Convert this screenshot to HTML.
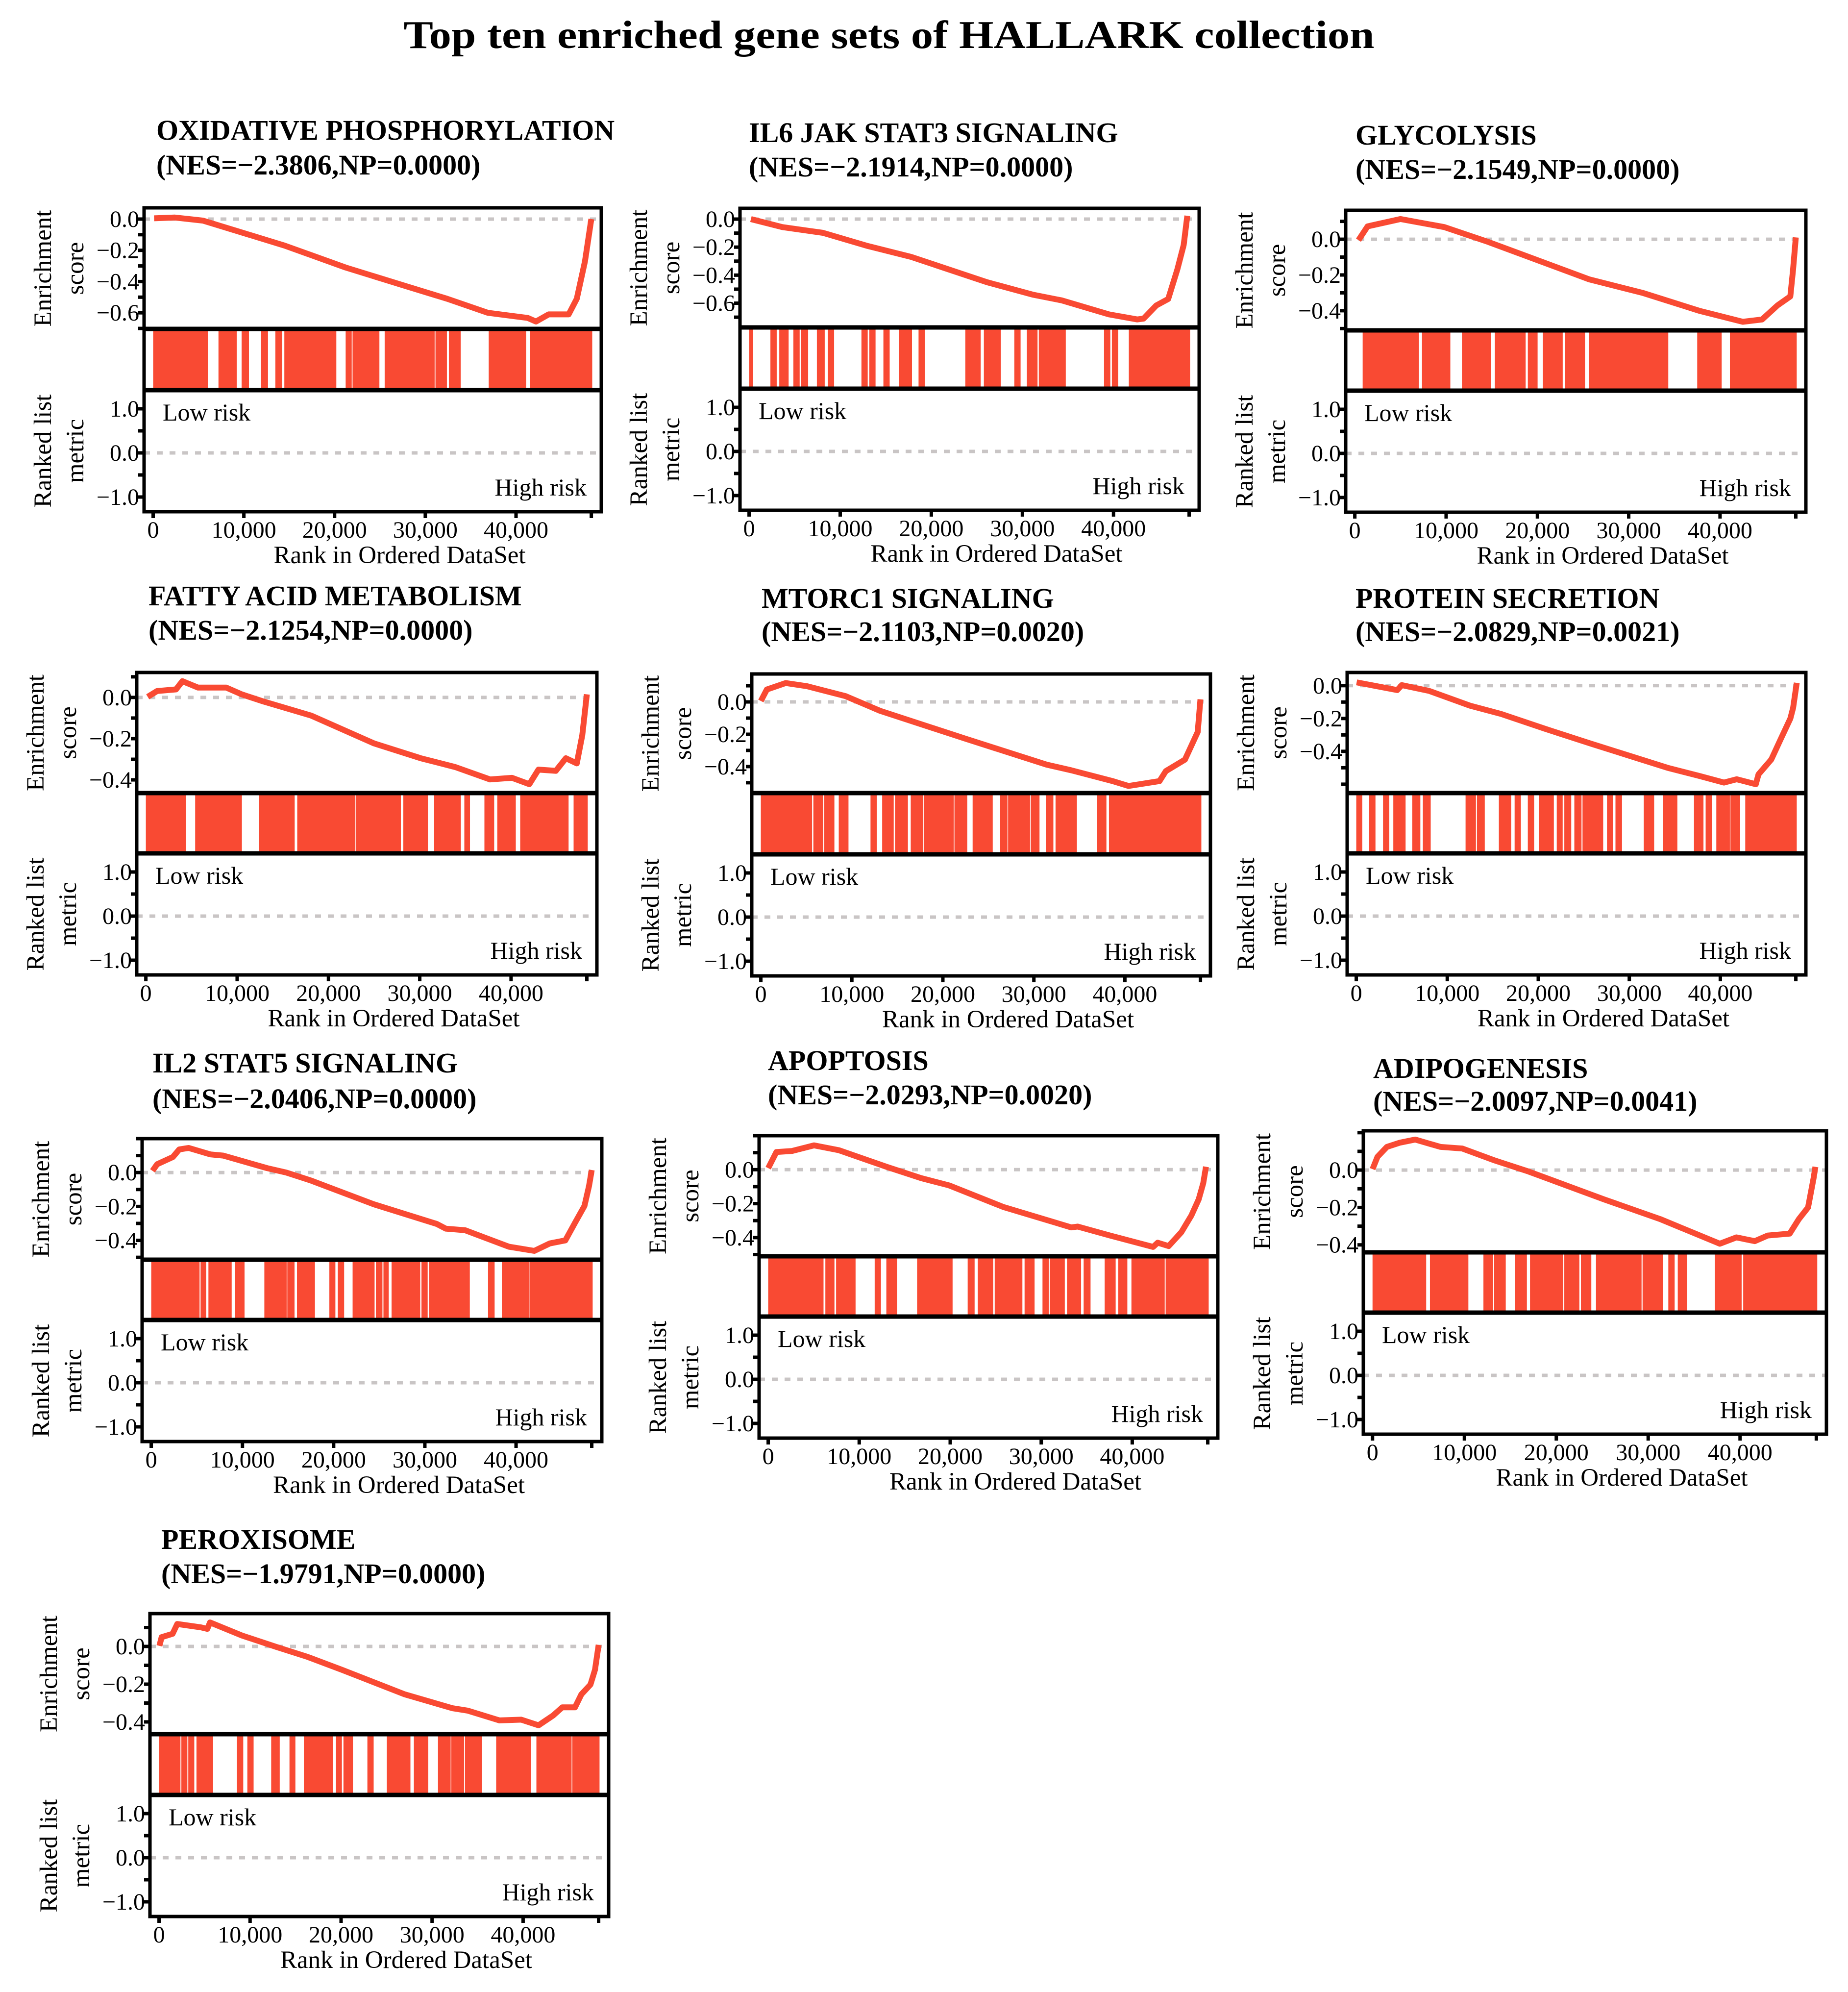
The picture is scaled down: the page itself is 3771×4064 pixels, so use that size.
<!DOCTYPE html>
<html><head><meta charset="utf-8"><style>
html,body{margin:0;padding:0;background:#fff;}
svg{display:block;}
text{font-family:"Liberation Serif","Times New Roman",serif;fill:#000;}
</style></head><body>
<svg id="chart" xmlns="http://www.w3.org/2000/svg" width="3771" height="4064" viewBox="0 0 3771 4064">
<rect x="0" y="0" width="3771" height="4064" fill="#fff"/>
<text x="1814" y="98" text-anchor="middle" font-size="80" font-weight="bold" textLength="1981" lengthAdjust="spacingAndGlyphs">Top ten enriched gene sets of HALLARK collection</text>
</svg>
<script>
// ---- data (ranks in thousands) ----
const setNames = ["OXIDATIVE PHOSPHORYLATION","IL6 JAK STAT3 SIGNALING","GLYCOLYSIS","FATTY ACID METABOLISM","MTORC1 SIGNALING","PROTEIN SECRETION","IL2 STAT5 SIGNALING","APOPTOSIS","ADIPOGENESIS","PEROXISOME"];
const nesValues = ["\u22122.3806","\u22122.1914","\u22122.1549","\u22122.1254","\u22122.1103","\u22122.0829","\u22122.0406","\u22122.0293","\u22122.0097","\u22121.9791"];
const npValues = ["0.0000","0.0000","0.0000","0.0000","0.0020","0.0021","0.0000","0.0020","0.0041","0.0000"];
const xTicks = [0,10,20,30,40];
const xTickLabels = ["0","10,000","20,000","30,000","40,000"];
const metricTicks = [1,0,-1];
const metricTickLabels = ["1.0","0.0","\u22121.0"];
const esRanks1=[0.1,2.4,5.5,10,14.5,21.2,27.9,32.4,36.9,41.3,42.2,43.6,45.8,46.7,47.6,48.3];
const esVals1=[0.005,0.01,-0.01,-0.09,-0.17,-0.31,-0.43,-0.51,-0.60,-0.633,-0.656,-0.61,-0.61,-0.51,-0.27,0.0];
const esRanks2=[0.2,3.65,8.1,12.9,17.8,26.1,31.2,34.3,39.5,42.6,43.3,44.7,46.0,47.0,47.7,48.1];
const esVals2=[0.0,-0.057,-0.098,-0.19,-0.27,-0.45,-0.54,-0.58,-0.68,-0.716,-0.71,-0.616,-0.57,-0.36,-0.185,0.024];
const esRanks3=[0.4,1.4,5.0,9.8,14.6,25.7,31.5,37.7,42.5,44.6,46.3,47.7,48.0,48.3];
const esVals3=[-0.005,0.072,0.113,0.068,-0.015,-0.225,-0.30,-0.40,-0.462,-0.449,-0.37,-0.32,-0.17,0.01];
const esRanks4=[0.2,1.24,3.3,4.0,5.7,8.8,10.5,12.9,18.1,25.0,30.1,33.9,37.7,40.1,42.0,43.0,44.9,46.0,47.2,47.8,48.3];
const esVals4=[0.003,0.031,0.039,0.079,0.048,0.048,0.015,-0.02,-0.088,-0.223,-0.295,-0.338,-0.398,-0.39,-0.421,-0.35,-0.356,-0.295,-0.32,-0.183,0.015];
const esRanks5=[0.0,0.66,2.73,5.1,9.3,13.1,22.4,31.4,34.1,38.6,40.4,43.8,44.5,46.6,48.0,48.3];
const esVals5=[0.006,0.077,0.117,0.097,0.036,-0.055,-0.226,-0.388,-0.423,-0.489,-0.52,-0.49,-0.428,-0.357,-0.186,0.016];
const esRanks6=[0.04,4.5,5.0,8.0,12.5,15.9,20.7,25.6,34.2,37.7,40.4,41.8,43.9,44.2,45.6,46.6,47.7,48.0,48.4];
const esVals6=[0.02,-0.027,0.003,-0.032,-0.122,-0.172,-0.262,-0.35,-0.50,-0.55,-0.59,-0.57,-0.60,-0.54,-0.45,-0.33,-0.20,-0.135,0.017];
const esRanks7=[0.14,0.65,2.38,3.07,4.1,6.5,7.9,12.7,14.8,17.5,24.4,31.3,32.3,34.4,39.2,42.0,43.7,45.4,46.5,47.5,48.0,48.3];
const esVals7=[0.01,0.049,0.092,0.136,0.145,0.107,0.1,0.026,0.0,-0.047,-0.187,-0.303,-0.331,-0.34,-0.437,-0.462,-0.418,-0.40,-0.293,-0.197,-0.08,0.015];
const esRanks8=[0.0,0.9,2.62,5.04,7.8,13.0,16.8,19.9,25.8,33.3,34.0,37.5,42.3,42.8,44.0,45.4,46.5,47.3,47.8,48.1];
const esVals8=[0.009,0.104,0.11,0.143,0.114,0.017,-0.05,-0.093,-0.219,-0.34,-0.335,-0.387,-0.455,-0.43,-0.45,-0.368,-0.27,-0.175,-0.08,0.017];
const esRanks9=[0.0,0.54,1.57,2.94,4.65,7.38,9.78,13.2,17.0,25.2,31.3,37.8,39.6,41.6,43.0,45.4,46.4,47.4,48.0,48.2];
const esVals9=[0.005,0.071,0.124,0.146,0.163,0.124,0.115,0.053,-0.008,-0.157,-0.262,-0.394,-0.36,-0.38,-0.35,-0.34,-0.262,-0.20,-0.043,0.017];
const esRanks10=[0.04,0.28,1.49,2.0,4.6,5.3,5.6,9.1,12.9,16.3,20.1,27.0,32.2,33.9,37.4,39.8,41.7,43.3,44.3,45.7,46.4,47.4,47.9,48.3];
const esVals10=[0.003,0.049,0.067,0.119,0.101,0.093,0.127,0.058,-0.003,-0.055,-0.124,-0.254,-0.327,-0.34,-0.392,-0.388,-0.418,-0.366,-0.323,-0.323,-0.254,-0.202,-0.124,0.008];
const hits1=[[0,6.03],[7.2,9.21],[9.75,10.56],[11.9,12.66],[13.47,14.23],[14.46,20.19],[21.22,21.89],[21.98,24.94],[25.52,31.03],[31.12,32.38],[32.6,33.9],[36.99,41.11],[41.56,48.4]];
const hits2=[[0,0.45],[2.34,3.03],[3.31,4.34],[4.86,5.55],[5.72,6.48],[7.44,8.3],[8.65,9.33],[12.33,13.02],[13.19,13.88],[14.74,15.43],[16.47,17.88],[18.6,19.29],[23.73,25.42],[25.77,27.63],[29.11,29.8],[30.49,31.66],[31.8,34.76],[38.96,39.65],[39.82,40.51],[41.68,48.4]];
const hits3=[[0.86,7.02],[7.36,10.46],[11.73,14.93],[15.34,18.71],[18.95,20.02],[20.6,22.77],[23.01,25.21],[25.66,34.33],[37.5,40.18],[41.08,48.4]];
const hits4=[[0,4.4],[5.4,10.52],[12.38,16.3],[16.58,22.91],[22.98,27.93],[28.2,30.89],[31.58,34.5],[34.88,35.5],[37.08,38.15],[38.49,40.52],[41.0,46.3],[46.85,48.4]];
const hits5=[[0,5.63],[5.77,6.84],[6.97,8.08],[8.56,9.63],[12.05,12.74],[13.33,14.6],[14.74,16.16],[16.47,17.85],[17.95,21.2],[21.27,22.68],[23.27,25.48],[26.3,27.1],[27.17,29.58],[29.65,30.62],[31.31,32.14],[32.38,34.73],[36.94,37.97],[38.25,48.4]];
const hits6=[[0,0.66],[1.42,2.11],[2.94,3.63],[4.07,5.42],[6.15,7.04],[7.32,8.18],[12.01,13.15],[13.26,14.12],[15.67,17.02],[17.4,18.09],[18.85,19.54],[20.06,21.71],[22.03,22.68],[22.86,23.62],[23.96,24.75],[24.86,27.13],[27.55,28.2],[28.48,29.2],[31.59,32.73],[33.73,35.28],[37.11,38.15],[38.39,39.11],[39.56,41.05],[41.11,42.18],[42.74,48.4]];
const hits7=[[0,5.3],[5.41,6.03],[6.27,8.82],[9.2,10.23],[12.4,14.85],[14.92,15.71],[15.98,17.95],[19.53,20.19],[20.46,21.15],[22.08,24.49],[24.63,25.35],[25.46,26.04],[26.35,29.49],[29.63,30.31],[30.45,34.93],[36.93,37.65],[38.44,41.48],[41.55,48.4]];
const hits8=[[0,6.08],[6.28,7.28],[7.46,9.6],[11.7,12.39],[12.98,14.15],[16.36,20.26],[21.92,22.68],[23.03,24.72],[24.89,27.93],[28.17,29.27],[30.14,30.83],[30.93,32.59],[32.83,34.38],[34.66,35.42],[36.97,38.18],[38.46,39.46],[39.91,43.57],[43.67,48.4]];
const hits9=[[0,5.84],[6.25,10.43],[12.07,13.13],[13.24,14.5],[15.49,16.8],[17.14,20.76],[20.87,22.51],[22.68,23.81],[24.32,29.28],[29.39,31.61],[32.19,32.88],[33.22,34.25],[37.26,40.17],[40.34,48.4]];
const hits10=[[0,2.35],[2.45,3.11],[3.21,3.87],[4.11,5.94],[8.56,9.25],[9.7,10.39],[12.32,13.26],[14.33,14.98],[15.91,19.12],[19.44,20.09],[20.26,21.3],[22.89,23.58],[25.03,27.62],[28.0,29.58],[30.65,32.04],[32.1,33.52],[33.62,35.49],[37.04,40.87],[41.46,45.33],[45.4,48.4]];
const esRanks=[esRanks1,esRanks2,esRanks3,esRanks4,esRanks5,esRanks6,esRanks7,esRanks8,esRanks9,esRanks10];
const esVals=[esVals1,esVals2,esVals3,esVals4,esVals5,esVals6,esVals7,esVals8,esVals9,esVals10];
const hitRuns=[hits1,hits2,hits3,hits4,hits5,hits6,hits7,hits8,hits9,hits10];
const esMax=[0.072,0.077,0.162,0.121,0.173,0.08,0.2,0.2,0.21,0.174];
const esMin=[-0.703,-0.773,-0.51,-0.464,-0.564,-0.654,-0.514,-0.51,-0.44,-0.465];
const esLabelVals=[[0,-0.2,-0.4,-0.6],[0,-0.2,-0.4,-0.6],[0,-0.2,-0.4],[0,-0.2,-0.4],[0,-0.2,-0.4],[0,-0.2,-0.4],[0,-0.2,-0.4],[0,-0.2,-0.4],[0,-0.2,-0.4],[0,-0.2,-0.4]];

// ---- layout (pixels) ----
const L=[{l:294,r:1227,t:424,e:671,b:796,tx:319,ty1:285,ty2:356},
{l:1510,r:2447,t:425,e:668,b:793,tx:1528,ty1:290,ty2:360},
{l:2746,r:3685,t:429,e:674,b:797,tx:2766,ty1:295,ty2:365},
{l:279,r:1218,t:1372,e:1618,b:1741,tx:303,ty1:1235,ty2:1305},
{l:1534,r:2470,t:1375,e:1618,b:1743,tx:1554,ty1:1240,ty2:1308},
{l:2749,r:3685,t:1372,e:1618,b:1741,tx:2766,ty1:1240,ty2:1308},
{l:290,r:1228,t:2323,e:2570,b:2693,tx:311,ty1:2188,ty2:2261},
{l:1549,r:2485,t:2317,e:2563,b:2686,tx:1567,ty1:2183,ty2:2253},
{l:2782,r:3727,t:2307,e:2555,b:2678,tx:2802,ty1:2199,ty2:2266},
{l:306,r:1242,t:3292,e:3538,b:3662,tx:329,ty1:3160,ty2:3230}];
const XMIN=-1.0, XMAX=49.4, MH=248, MZ=128, MU=90;
const RED="#f94a33", GRAY="#c9c5c5";
const NS="http://www.w3.org/2000/svg";
const svg=document.getElementById('chart');
function mk(tag,attrs,parent,txt){const e=document.createElementNS(NS,tag);for(const k in attrs)e.setAttribute(k,attrs[k]);if(txt!==undefined)e.textContent=txt;(parent||svg).appendChild(e);return e;}

for(let i=0;i<10;i++){
  const g=L[i];
  const grp=mk('g',{});
  
  
  const xs=k=>g.l+(k-XMIN)/(XMAX-XMIN)*(g.r-g.l);
  const ys=v=>g.t+(esMax[i]-v)/(esMax[i]-esMin[i])*(g.e-g.t);
  const bot=g.b+MH;
  const my=v=>g.b+MZ-v*MU;
  const t1=mk('text',{x:g.tx,y:g.ty1,'font-size':58,'font-weight':'bold'},grp,setNames[i]);
  
  
  const t2=mk('text',{x:g.tx,y:g.ty2,'font-size':58,'font-weight':'bold'},grp,'(NES='+nesValues[i]+',NP='+npValues[i]+')');
  
  
  hitRuns[i].forEach(h=>{
    const r=mk('rect',{x:xs(h[0]),y:g.e,width:Math.max(3,xs(h[1])-xs(h[0])),height:g.b-g.e,fill:RED},grp);
    
    
  });
  const z1=mk('line',{x1:g.l,x2:g.r,y1:ys(0),y2:ys(0),stroke:GRAY,'stroke-width':7,'stroke-dasharray':'12 14'},grp);
  
  
  const z2=mk('line',{x1:g.l,x2:g.r,y1:my(0),y2:my(0),stroke:GRAY,'stroke-width':7,'stroke-dasharray':'12 14'},grp);
  
  
  const pts=esRanks[i].map((k,j)=>xs(k).toFixed(1)+','+ys(esVals[i][j]).toFixed(1)).join(' ');
  const pl=mk('polyline',{points:pts,fill:'none',stroke:RED,'stroke-width':12,'stroke-linejoin':'round'},grp);
  
  
  const fr=mk('rect',{x:g.l,y:g.t,width:g.r-g.l,height:bot-g.t,fill:'none',stroke:'#000','stroke-width':7},grp);
  
  
  mk('line',{x1:g.l,x2:g.r,y1:g.e,y2:g.e,stroke:'#000','stroke-width':9},grp);
  mk('line',{x1:g.l,x2:g.r,y1:g.b,y2:g.b,stroke:'#000','stroke-width':9},grp);
  for(let v=Math.ceil(esMin[i]*10);v<=Math.floor(esMax[i]*10);v++){
    mk('line',{x1:g.l-12,x2:g.l,y1:ys(v/10),y2:ys(v/10),stroke:'#000','stroke-width':7},grp);
  }
  esLabelVals[i].forEach(v=>{
    const tl=mk('text',{x:g.l-10,y:ys(v)+16,'font-size':48,'text-anchor':'end'},grp,(v<0?'\u2212':'')+Math.abs(v).toFixed(1));
    
    
  });
  [1,0.5,0,-0.5,-1].forEach(v=>mk('line',{x1:g.l-12,x2:g.l,y1:my(v),y2:my(v),stroke:'#000','stroke-width':7},grp));
  metricTicks.forEach((v,j)=>{
    const tl=mk('text',{x:g.l-10,y:my(v)+16,'font-size':48,'text-anchor':'end'},grp,metricTickLabels[j]);
    
    
  });
  xTicks.concat([48.3]).forEach(k=>mk('line',{x1:xs(k),x2:xs(k),y1:bot,y2:bot+13,stroke:'#000','stroke-width':7},grp));
  xTicks.forEach((k,j)=>{
    const tl=mk('text',{x:xs(k),y:bot+53,'font-size':48,'text-anchor':'middle'},grp,xTickLabels[j]);
    
    
  });
  const xt=mk('text',{x:(g.l+g.r)/2+55,y:bot+105,'font-size':51,'text-anchor':'middle'},grp,'Rank in Ordered DataSet');
  
  
  const lr=mk('text',{x:g.l+38,y:g.b+62,'font-size':50},grp,'Low risk');
  
  
  const hr=mk('text',{x:g.r-30,y:g.b+215,'font-size':50,'text-anchor':'end'},grp,'High risk');
  
  
  const em=(g.t+g.e)/2, mm=(g.b+bot)/2;
  const y1=mk('text',{x:0,y:0,'font-size':51,'text-anchor':'middle',transform:'translate('+(g.l-190)+','+em+') rotate(-90)'},grp,'Enrichment');
  
  
  mk('text',{x:0,y:0,'font-size':51,'text-anchor':'middle',transform:'translate('+(g.l-124)+','+em+') rotate(-90)'},grp,'score');
  const y2=mk('text',{x:0,y:0,'font-size':51,'text-anchor':'middle',transform:'translate('+(g.l-190)+','+mm+') rotate(-90)'},grp,'Ranked list');
  
  
  mk('text',{x:0,y:0,'font-size':51,'text-anchor':'middle',transform:'translate('+(g.l-124)+','+mm+') rotate(-90)'},grp,'metric');
}
</script>
</body></html>
